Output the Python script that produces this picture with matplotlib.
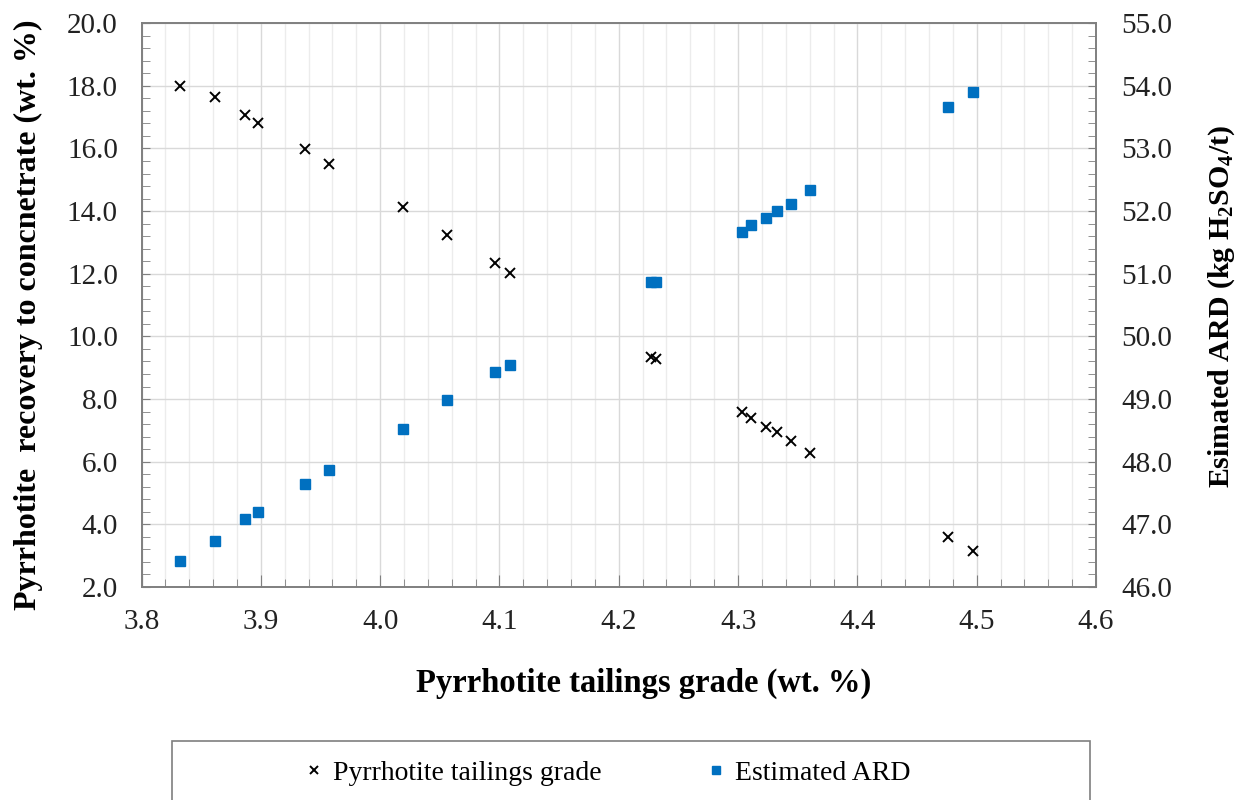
import numpy as np
import matplotlib
matplotlib.use('Agg')
import matplotlib.pyplot as plt
from matplotlib.ticker import MultipleLocator, FormatStrFormatter
from matplotlib.patches import Rectangle

plt.rcParams['font.family'] = ['Liberation Serif', 'DejaVu Serif']
plt.rcParams['mathtext.fontset'] = 'custom'
plt.rcParams['mathtext.rm'] = 'Liberation Serif:bold'
plt.rcParams['mathtext.bf'] = 'Liberation Serif:bold'
plt.rcParams['mathtext.default'] = 'bf'

### data ###
grade = [3.832, 3.862, 3.887, 3.898, 3.937, 3.957, 4.019, 4.056, 4.096, 4.109,
         4.227, 4.231, 4.303, 4.311, 4.323, 4.333, 4.344, 4.360, 4.476, 4.497]
recovery = [17.99, 17.65, 17.08, 16.82, 15.97, 15.49, 14.12, 13.23, 12.34, 12.02,
            9.33, 9.27, 7.58, 7.41, 7.12, 6.95, 6.66, 6.29, 3.59, 3.15]
ard = [46.41, 46.74, 47.08, 47.19, 47.64, 47.87, 48.53, 48.98, 49.43, 49.55,
       50.87, 50.87, 51.67, 51.78, 51.89, 52.00, 52.12, 52.34, 53.67, 53.90]

blue = '#0070C0'
spine_col = '#7f7f7f'
tick_fs = 21

fig = plt.figure(figsize=(12.42, 8.0), dpi=100)
ax = fig.add_axes([141.5/1242, 1-587/800, (1096-141.5)/1242, (587-23.2)/800])
ax2 = ax.twinx()

### left axis: recovery (crosses) ###
l1, = ax.plot(grade, recovery, linestyle='none', marker='x', color='black',
              markersize=7, markeredgewidth=1.4, label='Pyrrhotite tailings grade', zorder=3)
ax.set_xlim(3.8, 4.6)
ax.set_ylim(2.0, 20.0)
ax.xaxis.set_major_locator(MultipleLocator(0.1))
ax.xaxis.set_minor_locator(MultipleLocator(0.02))
ax.yaxis.set_major_locator(MultipleLocator(2.0))
ax.yaxis.set_minor_locator(MultipleLocator(0.4))
ax.xaxis.set_major_formatter(FormatStrFormatter('%.1f'))
ax.yaxis.set_major_formatter(FormatStrFormatter('%.1f'))
ax.grid(which='major', color='#d9d9d9', linewidth=1.0)
ax.grid(which='minor', axis='x', color='#ececec', linewidth=1.0)
ax.set_axisbelow(True)
ax.tick_params(which='both', direction='in', colors=spine_col, labelcolor='#222222',
               labelsize=tick_fs, top=False, right=False)
ax.tick_params(axis='y', which='major', length=6, pad=17)
ax.tick_params(axis='y', which='minor', length=6)
ax.tick_params(axis='x', which='major', length=9, pad=16)
ax.tick_params(axis='x', which='minor', length=6)

### right axis: ARD (squares) ###
l2, = ax2.plot(grade, ard, linestyle='none', marker='s', color=blue,
               markersize=7, label='Estimated ARD', zorder=3)
ax2.set_ylim(46.0, 55.0)
ax2.yaxis.set_major_locator(MultipleLocator(1.0))
ax2.yaxis.set_minor_locator(MultipleLocator(0.2))
ax2.yaxis.set_major_formatter(FormatStrFormatter('%.1f'))
ax2.tick_params(which='both', direction='in', colors=spine_col, labelcolor='#222222',
                labelsize=tick_fs, length=6, pad=18)

for a in (ax, ax2):
    for s in a.spines.values():
        s.set_color(spine_col)
        s.set_linewidth(1.2)

### axis titles ###
fig.text(644/1242, 1-683/800, 'Pyrrhotite tailings grade (wt. %)',
         ha='center', va='center', fontsize=23.5, fontweight='bold')
fig.text(28/1242, 1-315/800, 'Pyrrhotite  recovery to concnetrate (wt. %)',
         ha='center', va='center', rotation=90, fontsize=23, fontweight='bold')
fig.text(1222/1242, 1-307/800, 'Esimated ARD (kg H$_2$SO$_4$/t)',
         ha='center', va='center', rotation=90, fontsize=21.5, fontweight='bold')

### legend box (runs off the bottom edge like the reference) ###
fig.patches.append(Rectangle((172/1242, -0.05), (1090-172)/1242, 0.05+1-741/800,
                             transform=fig.transFigure, facecolor='white',
                             edgecolor='#7f7f7f', linewidth=1.2))
fig.legend(handles=[l1, l2], loc='center', bbox_to_anchor=(608/1242, 1-773/800),
           ncol=2, frameon=False, fontsize=20, handlelength=0.6, handletextpad=0.4,
           columnspacing=3.8, markerscale=0.8)

fig.savefig('out.png', dpi=100)
